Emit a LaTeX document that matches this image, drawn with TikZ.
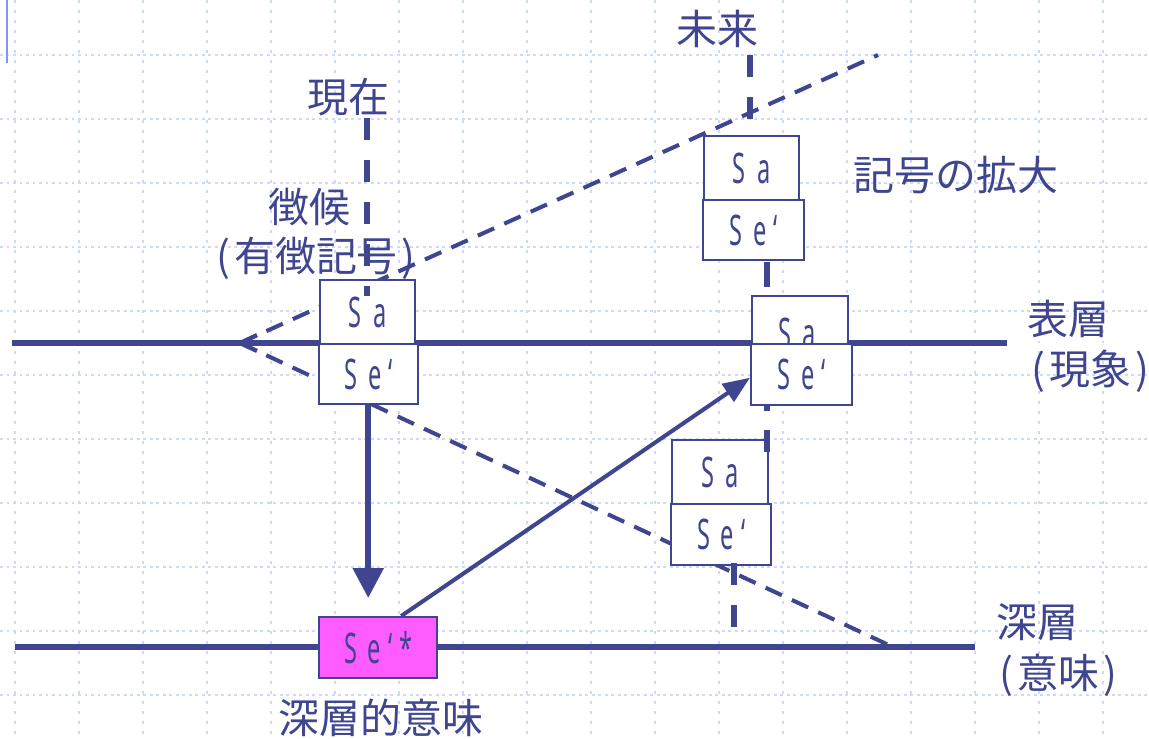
\documentclass[tikz,border=0pt]{standalone}
\usepackage{fontspec}
\usepackage{graphicx}
\newfontfamily\jp{Noto Sans CJK JP}
\newfontfamily\lat{Noto Sans}
\usetikzlibrary{arrows.meta}
\definecolor{ink}{RGB}{63,69,143}
\definecolor{gridc}{RGB}{205,216,250}
\definecolor{pinkc}{RGB}{255,92,255}
\definecolor{barc}{RGB}{128,148,250}
\newcommand\sat[1]{\scalebox{0.56}[1]{\lat\fontsize{24pt}{24pt}\selectfont #1}}
\begin{document}
\begin{tikzpicture}[x=0.02cm,y=-0.02cm,
  lbl/.style={font=\jp\fontsize{23.3pt}{26pt}\selectfont, text=ink, inner sep=0pt},
  cell/.style={draw=ink, line width=1.4pt, fill=white, inner sep=0pt, anchor=north west, text=ink},
  layer/.style={draw=ink, line width=2.9pt},
  timeline/.style={draw=ink, line width=2.9pt, dash pattern=on 12.5pt off 11.4pt},
  sign/.style={draw=ink, line width=2.3pt, dash pattern=on 10.2pt off 6.3pt},
  gridv/.style={draw=gridc, line width=1.1pt, dash pattern=on 1.7pt off 4pt},
  gridh/.style={draw=gridc, line width=1.1pt, dash pattern=on 1.7pt off 2pt},
  bigarrow/.style={draw=ink, line width=3.3pt, -{Triangle[length=0.6cm,width=0.6cm]}},
  midarrow/.style={draw=ink, line width=2.3pt, -{Triangle[length=0.54cm,width=0.42cm]}}]
\useasboundingbox (0,0) rectangle (1149,738);
% grid
\foreach \k in {0,...,17} {\draw[gridv] (14.7+64*\k,0) -- (14.7+64*\k,738);}
\foreach \k in {0,...,10} {\draw[gridh] (0,55+64*\k) -- (1149,55+64*\k);}
\draw[barc, line width=1.3pt] (7,0) -- (7,63);
% layers
\coordinate (s1) at (12,343);
\coordinate (s2) at (1007,343);
\coordinate (d1) at (15,647);
\coordinate (d2) at (975,647);
\draw[layer] (s1) -- (s2);
\draw[layer] (d1) -- (d2);
% time lines (upper parts)
\coordinate (ft) at (750,55);
\coordinate (fb) at (750,135);
\draw[timeline] (ft) -- (fb);
% sign expansion lines
\coordinate (tip) at (240,343);
\coordinate (ue) at (878,55);
\coordinate (le) at (893,647);
\draw[sign] (tip) -- (ue);
\draw[sign] (tip) -- (le);
\draw[ink, line width=2.3pt] ([shift={(17,-8)}]tip) -- (tip) -- ([shift={(17,8)}]tip);
% boxes
\node[cell, minimum width=1.90cm, minimum height=1.28cm] (lsa) at (319,279) {\sat{S\hspace{0.5em}a}};
\node[cell, minimum width=1.98cm, minimum height=1.20cm] (lse) at (318,343) {\sat{S\hspace{0.45em}e\hspace{0.3em}‘}};
\node[cell, minimum width=1.90cm, minimum height=1.28cm] (tsa) at (703,135) {\sat{S\hspace{0.5em}a}};
\node[cell, minimum width=2.02cm, minimum height=1.20cm] (tse) at (702,199) {\sat{S\hspace{0.45em}e\hspace{0.3em}‘}};
\node[cell, minimum width=1.92cm, minimum height=0.96cm] (msa) at (751,295) {};
\node[text=ink, inner sep=0pt] (msat) at (797,333) {\sat{S\hspace{0.5em}a}};
\node[cell, minimum width=2.02cm, minimum height=1.22cm] (mse) at (750,343) {\sat{S\hspace{0.45em}e\hspace{0.3em}‘}};
\node[cell, minimum width=1.92cm, minimum height=1.28cm] (bsa) at (671,439) {\sat{S\hspace{0.5em}a}};
\node[cell, minimum width=2.00cm, minimum height=1.22cm] (bse) at (670,503) {\sat{S\hspace{0.45em}e\hspace{0.3em}‘}};
\node[cell, fill=pinkc, minimum width=2.36cm, minimum height=1.22cm] (pink) at (318,616) {\sat{S\hspace{0.45em}e\hspace{0.3em}‘\hspace{0.3em}*}};
% time line segments over / between boxes
\coordinate (nt) at (367,118);
\coordinate (nb) at (367,296);
\draw[timeline] (nt) -- (nb);
\coordinate (f1) at (767,262);
\coordinate (f2) at (767,287);
\draw[ink, line width=2.9pt] (f1) -- (f2);
\coordinate (f3) at (767,404);
\coordinate (f4) at (767,411);
\draw[ink, line width=2.9pt] (f3) -- (f4);
\coordinate (f5) at (767,430);
\coordinate (f6) at (767,452);
\draw[ink, line width=2.9pt] (f5) -- (f6);
\coordinate (pt) at (734,563);
\coordinate (pb) at (734,628);
\draw[timeline] (pt) -- (pb);
% arrows
\draw[bigarrow, shorten >=0.36cm] ([xshift=-0.01cm]lse.south) -- ([xshift=-0.01cm]lse.south |- pink.north);
\draw[midarrow] ([xshift=0.46cm]pink.north) -- ([yshift=-0.06cm]mse.west);
% labels
\node[lbl] (future) at (717,29) {未来};
\node[lbl] (now) at (348,97) {現在};
\node[lbl] (symp) at (309,207) {徴候};
\node[lbl] (marked) at (316,258) {(\hspace{0.1em}有徴記号\hspace{0.1em})};
\node[lbl] (exp) at (956,175) {記号の拡大};
\node[lbl] (surf) at (1068,319) {表層};
\node[lbl] (phen) at (1090,371) {(\hspace{0.1em}現象\hspace{0.1em})};
\node[lbl] (deep) at (1037,622) {深層};
\node[lbl] (mean) at (1058,675) {(\hspace{0.1em}意味\hspace{0.1em})};
\node[lbl] (deepm) at (381,718) {深層的意味};
\end{tikzpicture}
\end{document}
